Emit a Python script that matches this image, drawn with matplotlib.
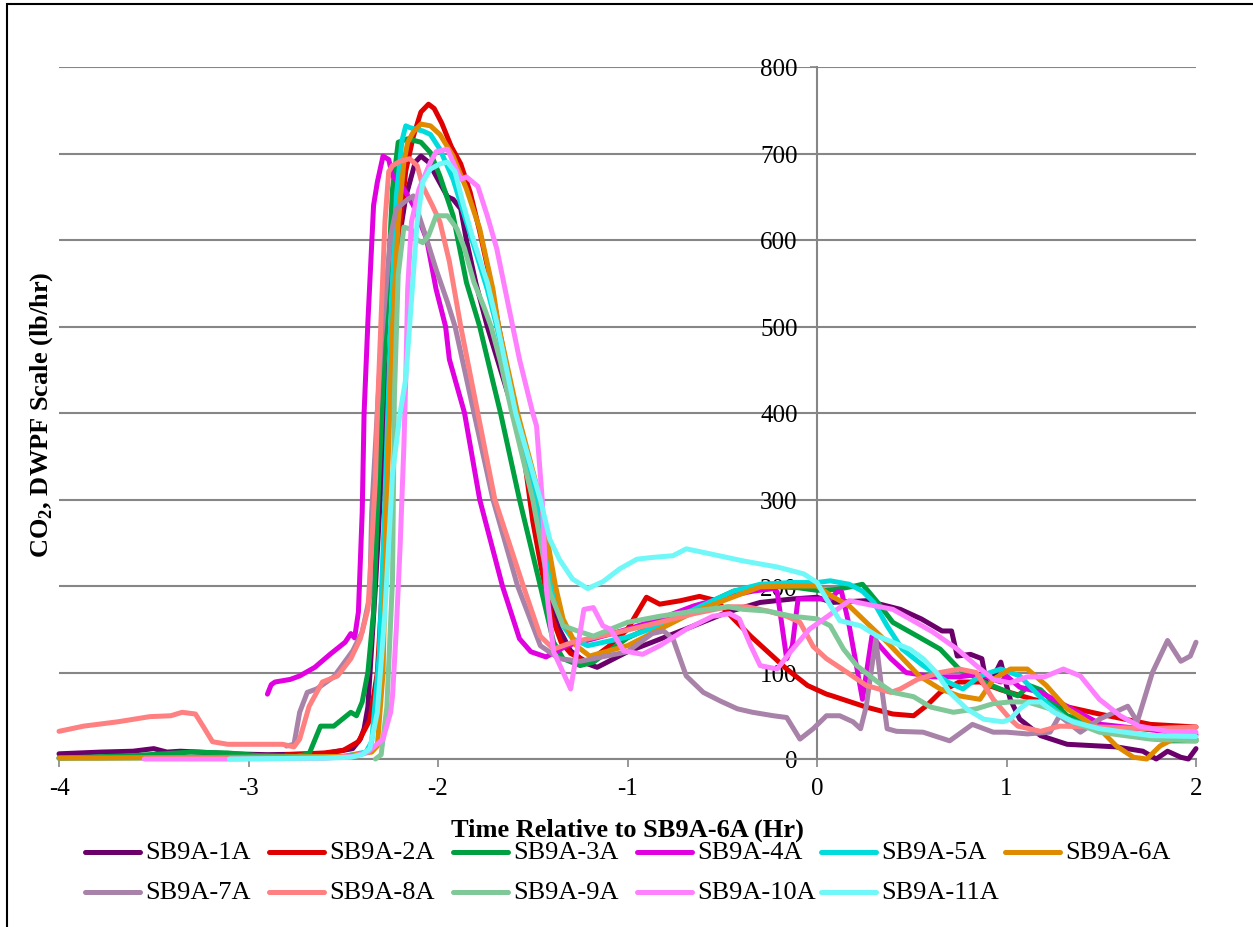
import matplotlib
matplotlib.use('Agg')
import matplotlib.pyplot as plt
from matplotlib.lines import Line2D
from matplotlib.patches import Rectangle

plt.rcParams['font.family'] = ['Liberation Serif', 'DejaVu Serif']
plt.rcParams['mathtext.fontset'] = 'custom'
plt.rcParams['mathtext.rm'] = 'Liberation Serif'
plt.rcParams['mathtext.bf'] = 'Liberation Serif:bold'

# ---------------- data ----------------
names = ['SB9A-1A', 'SB9A-2A', 'SB9A-3A', 'SB9A-4A', 'SB9A-5A', 'SB9A-6A',
         'SB9A-7A', 'SB9A-8A', 'SB9A-9A', 'SB9A-10A', 'SB9A-11A']
colors = ['#6B006B', '#E00000', '#00A040', '#E000E0', '#00DCDC', '#E08A00',
          '#A882A8', '#FF8080', '#80C898', '#FF80FF', '#70F8F8']

t_1A = [-4, -3.78, -3.61, -3.5, -3.43, -3.36, -3.26, -3.1, -2.9, -2.6, -2.45, -2.41, -2.39, -2.37, -2.33,
        -2.28, -2.22, -2.17, -2.12, -2.09, -2.05, -2.0, -1.95, -1.92, -1.88, -1.85, -1.8, -1.74, -1.6,
        -1.5, -1.42, -1.36, -1.3, -1.21, -1.16, -1.0, -0.87, -0.65, -0.47, -0.3, -0.13, 0, 0.08, 0.26,
        0.44, 0.55, 0.66, 0.71, 0.74, 0.81, 0.87, 0.9, 0.97, 1.0, 1.02, 1.07, 1.18, 1.32, 1.58, 1.72,
        1.79, 1.85, 1.92, 1.96, 2.0]
co2_1A = [6, 8, 9, 12, 8, 9, 8, 6, 5, 6, 12, 23, 35, 60, 200, 400, 580, 650, 690, 697, 690, 670, 650,
          647, 636, 600, 550, 500, 400, 300, 200, 150, 125, 110, 106, 124, 135, 154, 170, 181, 185, 187,
          181, 183, 173, 162, 148, 148, 119, 121, 116, 81, 112, 85, 69, 46, 27, 17, 14, 9, 0, 9, 2, 0, 12]

t_2A = [-2.8, -2.6, -2.5, -2.42, -2.36, -2.32, -2.28, -2.26, -2.23, -2.2, -2.17, -2.13, -2.09, -2.05,
        -2.02, -1.98, -1.93, -1.88, -1.83, -1.78, -1.73, -1.68, -1.63, -1.58, -1.54, -1.5, -1.45, -1.4,
        -1.35, -1.3, -1.21, -1.1, -1.0, -0.9, -0.83, -0.72, -0.62, -0.53, -0.44, -0.35, -0.26, -0.16,
        -0.05, 0.05, 0.08, 0.26, 0.4, 0.51, 0.58, 0.65, 0.75, 0.86, 0.97, 1.14, 1.49, 1.76, 2.0]
co2_2A = [5, 7, 10, 20, 45, 100, 250, 390, 530, 620, 680, 720, 748, 757, 752, 735, 708, 688, 655, 610,
          560, 500, 445, 390, 340, 275, 215, 165, 135, 122, 112, 130, 150, 187, 179, 183, 188, 183, 162,
          142, 124, 104, 85, 75, 73, 60, 52, 50, 62, 77, 89, 89, 80, 69, 52, 40, 37]

t_3A = [-4, -3.6, -3.45, -3.3, -3.11, -2.95, -2.75, -2.68, -2.62, -2.55, -2.46, -2.43, -2.4, -2.37,
        -2.34, -2.32, -2.28, -2.24, -2.21, -2.16, -2.09, -2.04, -1.99, -1.92, -1.85, -1.78, -1.71, -1.67,
        -1.57, -1.46, -1.39, -1.34, -1.25, -1.18, -1.0, -0.8, -0.6, -0.44, -0.3, -0.1, 0.0, 0.1, 0.2,
        0.24, 0.32, 0.4, 0.53, 0.65, 0.75, 0.9, 1.0, 1.06, 1.12, 1.18, 1.32, 1.67, 1.85, 2.0]
co2_3A = [1, 4, 6, 8, 7, 4, 3, 6, 38, 38, 54, 50, 66, 100, 170, 285, 480, 659, 713, 717, 713, 701, 674,
          628, 551, 500, 436, 400, 300, 200, 135, 116, 108, 112, 140, 160, 178, 194, 200, 198, 195, 196,
          200, 202, 181, 158, 142, 127, 104, 87, 78, 73, 85, 80, 50, 27, 21, 21]

t_4A = [-2.9, -2.88, -2.86, -2.78, -2.73, -2.65, -2.57, -2.49, -2.46, -2.44, -2.42, -2.40, -2.39, -2.37,
        -2.34, -2.32, -2.29, -2.26, -2.24, -2.18, -2.13, -2.06, -2.01, -1.96, -1.94, -1.86, -1.78, -1.66,
        -1.57, -1.51, -1.43, -1.32, -1.18, -1.0, -0.83, -0.65, -0.47, -0.34, -0.23, -0.21, -0.16, -0.13,
        -0.10, -0.02, 0.07, 0.11, 0.13, 0.17, 0.24, 0.29, 0.33, 0.39, 0.47, 0.61, 0.75, 0.86, 0.97, 1.0,
        1.07, 1.18, 1.5, 2.0]
co2_4A = [75, 86, 89, 92, 96, 106, 121, 135, 145, 140, 170, 285, 400, 505, 640, 667, 697, 693, 674, 659,
          640, 601, 543, 500, 462, 400, 300, 200, 139, 124, 118, 131, 139, 150, 162, 177, 188, 194, 197,
          193, 116, 131, 185, 185, 185, 194, 193, 154, 69, 142, 131, 116, 100, 95, 95, 98, 89, 96, 83, 77,
          40, 28]

t_5A = [-4, -3.8, -3.0, -2.5, -2.38, -2.35, -2.31, -2.28, -2.25, -2.22, -2.19, -2.17, -2.15, -2.08,
        -2.04, -1.99, -1.92, -1.85, -1.74, -1.69, -1.59, -1.48, -1.40, -1.34, -1.29, -1.21, -1.0, -0.83,
        -0.62, -0.44, -0.30, -0.13, 0.0, 0.07, 0.17, 0.24, 0.30, 0.37, 0.45, 0.56, 0.69, 0.77, 0.86,
        0.97, 1.07, 1.19, 1.32, 1.49, 1.76, 2.0]
co2_5A = [1, 1, 2, 3, 8, 20, 120, 300, 500, 650, 715, 732, 730, 726, 722, 705, 670, 621, 543, 500, 400,
          300, 200, 154, 139, 131, 141, 154, 176, 194, 202, 204, 204, 206, 202, 194, 181, 154, 127, 108,
          89, 81, 96, 104, 96, 69, 46, 35, 27, 23]

t_6A = [-4, -3.8, -3.0, -2.5, -2.35, -2.32, -2.29, -2.27, -2.24, -2.21, -2.18, -2.16, -2.13, -2.09,
        -2.04, -1.99, -1.92, -1.85, -1.78, -1.71, -1.68, -1.58, -1.46, -1.38, -1.34, -1.27, -1.2, -1.0,
        -0.83, -0.65, -0.47, -0.3, -0.13, 0.0, 0.08, 0.17, 0.26, 0.37, 0.44, 0.54, 0.65, 0.75, 0.86,
        0.93, 1.02, 1.11, 1.21, 1.32, 1.49, 1.58, 1.67, 1.74, 1.81, 1.88, 2.0]
co2_6A = [1, 1, 2, 3, 8, 15, 100, 300, 500, 620, 690, 713, 725, 734, 732, 722, 697, 659, 613, 543, 500,
          400, 300, 200, 162, 131, 119, 131, 150, 170, 185, 199, 200, 200, 188, 177, 158, 135, 119, 96,
          81, 73, 69, 92, 104, 104, 85, 58, 35, 15, 2, 0, 15, 23, 23]

t_7A = [-2.80, -2.76, -2.73, -2.69, -2.64, -2.55, -2.45, -2.40, -2.36, -2.35, -2.30, -2.25, -2.22,
        -2.16, -2.13, -2.10, -2.06, -2.01, -1.95, -1.91, -1.81, -1.71, -1.58, -1.46, -1.36, -1.25, -1.18,
        -1.0, -0.87, -0.81, -0.76, -0.69, -0.60, -0.51, -0.42, -0.34, -0.23, -0.16, -0.09, -0.02, 0.05,
        0.12, 0.19, 0.23, 0.26, 0.31, 0.34, 0.37, 0.42, 0.56, 0.70, 0.82, 0.93, 1.0, 1.11, 1.23, 1.28,
        1.39, 1.49, 1.64, 1.69, 1.77, 1.85, 1.92, 1.97, 2.0]
co2_7A = [15, 17, 54, 77, 81, 95, 125, 147, 188, 285, 480, 605, 636, 647, 651, 628, 601, 566, 528, 500,
          400, 300, 200, 131, 116, 113, 116, 124, 145, 148, 139, 96, 77, 67, 58, 54, 50, 48, 23, 35, 50,
          50, 43, 35, 61, 139, 84, 35, 32, 31, 21, 40, 31, 31, 29, 31, 50, 31, 46, 61, 43, 100, 137, 113,
          119, 135]

t_8A = [-4.0, -3.87, -3.69, -3.52, -3.41, -3.35, -3.28, -3.24, -3.19, -3.11, -2.99, -2.82, -2.76, -2.73,
        -2.68, -2.61, -2.53, -2.46, -2.41, -2.37, -2.36, -2.33, -2.32, -2.28, -2.26, -2.24, -2.20, -2.15,
        -2.11, -2.08, -2.03, -1.99, -1.94, -1.88, -1.79, -1.70, -1.55, -1.46, -1.39, -1.29, -1.04, -0.83,
        -0.65, -0.47, -0.37, -0.26, -0.16, -0.09, -0.02, 0.05, 0.16, 0.26, 0.39, 0.44, 0.53, 0.65, 0.75,
        0.84, 0.93, 1.02, 1.06, 1.18, 1.28, 1.49, 1.76, 2.0]
co2_8A = [32, 38, 43, 49, 50, 54, 52, 38, 20, 17, 17, 17, 14, 23, 61, 89, 96, 116, 139, 173, 208, 324,
          401, 621, 679, 686, 691, 694, 686, 662, 640, 621, 575, 500, 400, 300, 200, 142, 127, 135, 147,
          158, 168, 176, 176, 171, 165, 158, 130, 116, 100, 85, 77, 81, 92, 100, 104, 100, 69, 46, 38, 32,
          38, 37, 35, 37]

t_9A = [-2.33, -2.30, -2.27, -2.24, -2.23, -2.21, -2.18, -2.14, -2.11, -2.08, -2.05, -2.01, -1.95, -1.90,
        -1.86, -1.81, -1.76, -1.72, -1.67, -1.61, -1.50, -1.41, -1.34, -1.25, -1.18, -1.0, -0.83, -0.65,
        -0.47, -0.39, -0.26, -0.13, 0.0, 0.07, 0.14, 0.21, 0.32, 0.40, 0.51, 0.60, 0.72, 0.84, 0.93,
        1.02, 1.11, 1.23, 1.35, 1.49, 1.76, 2.0]
co2_9A = [0, 5, 60, 208, 420, 560, 615, 612, 600, 597, 605, 628, 628, 613, 590, 551, 524, 500, 459, 400,
          300, 193, 154, 147, 142, 158, 165, 171, 176, 173, 171, 165, 162, 154, 127, 108, 89, 77, 72, 60,
          54, 58, 64, 66, 66, 58, 43, 31, 23, 21]

t_10A = [-3.55, -3.1, -2.6, -2.45, -2.37, -2.29, -2.25, -2.24, -2.22, -2.20, -2.18, -2.17, -2.16, -2.14,
         -2.10, -2.04, -2.01, -1.95, -1.92, -1.88, -1.85, -1.79, -1.74, -1.69, -1.57, -1.50, -1.48, -1.45,
         -1.43, -1.39, -1.30, -1.23, -1.18, -1.13, -1.09, -1.02, -0.92, -0.83, -0.69, -0.55, -0.46, -0.41,
         -0.35, -0.30, -0.21, -0.14, -0.04, 0.05, 0.17, 0.26, 0.40, 0.49, 0.61, 0.74, 0.84, 0.93, 1.02,
         1.11, 1.2, 1.3, 1.39, 1.49, 1.60, 1.70, 1.85, 2.0]
co2_10A = [0, 0, 1, 3, 8, 23, 54, 73, 150, 246, 362, 440, 543, 621, 659, 690, 702, 705, 690, 670, 673,
           662, 628, 590, 462, 400, 385, 300, 200, 124, 81, 173, 175, 154, 150, 125, 121, 131, 150, 165,
           168, 162, 131, 108, 104, 124, 150, 164, 183, 179, 173, 162, 147, 127, 108, 92, 88, 95, 95, 104,
           96, 69, 50, 38, 32, 31]

t_11A = [-3.1, -2.6, -2.46, -2.4, -2.36, -2.32, -2.28, -2.24, -2.2, -2.17, -2.14, -2.11, -2.08, -2.04,
         -1.99, -1.95, -1.91, -1.87, -1.82, -1.74, -1.69, -1.59, -1.46, -1.41, -1.36, -1.29, -1.21, -1.13,
         -1.04, -0.95, -0.87, -0.76, -0.69, -0.56, -0.39, -0.21, -0.07, 0.0, 0.05, 0.12, 0.23, 0.32, 0.40,
         0.49, 0.56, 0.63, 0.70, 0.79, 0.88, 0.98, 1.02, 1.07, 1.12, 1.18, 1.25, 1.35, 1.49, 1.76, 2.0]
co2_11A = [0, 1, 2, 5, 12, 54, 170, 330, 400, 440, 530, 621, 667, 682, 688, 690, 679, 644, 605, 551, 505,
           400, 300, 254, 231, 208, 197, 205, 220, 231, 233, 235, 243, 237, 229, 222, 214, 204, 185, 160,
           154, 142, 135, 127, 116, 100, 77, 58, 46, 43, 46, 58, 66, 66, 54, 43, 35, 27, 26]

x_ticks = [-4, -3, -2, -1, 0, 1, 2]
y_ticks = [0, 100, 200, 300, 400, 500, 600, 700, 800]

series_t = [t_1A, t_2A, t_3A, t_4A, t_5A, t_6A, t_7A, t_8A, t_9A, t_10A, t_11A]
series_v = [co2_1A, co2_2A, co2_3A, co2_4A, co2_5A, co2_6A, co2_7A, co2_8A, co2_9A, co2_10A, co2_11A]

# ---------------- figure ----------------
W, H = 1253, 928
fig = plt.figure(figsize=(W / 100, H / 100), dpi=100)
ax = fig.add_axes([59 / W, 1 - 760 / H, (1196 - 59) / W, (760 - 68) / H])

grid_c = '#868686'
LW = 3.6
for t, v, c in zip(series_t, series_v, colors):
    ax.plot(t, v, color=c, lw=LW, solid_joinstyle='round', solid_capstyle='round', clip_on=False, zorder=3)

ax.set_xlim(-4, 2)
ax.set_ylim(0, 800)
ax.set_xticks(x_ticks)
ax.set_xticklabels([str(x) for x in x_ticks])
ax.set_yticks(y_ticks)
ax.set_yticklabels([str(y) for y in y_ticks])

ax.yaxis.grid(True, color=grid_c, lw=1.5)
ax.set_axisbelow(True)
ax.spines['top'].set_visible(False)
ax.spines['right'].set_visible(False)
ax.spines['left'].set_position(('data', 0))
ax.spines['left'].set_color(grid_c)
ax.spines['left'].set_linewidth(1.5)
ax.spines['bottom'].set_color(grid_c)
ax.spines['bottom'].set_linewidth(1.5)
ax.tick_params(axis='x', direction='out', length=6, width=1.2, color=grid_c, pad=7, labelsize=18)
ax.tick_params(axis='y', direction='out', length=5, width=1.2, color=grid_c, pad=9, labelsize=18)

fig.text(627 / W, 1 - 830 / H, 'Time Relative to SB9A-6A (Hr)', ha='center', va='center',
         fontsize=19, fontweight='bold')
fig.text(42 / W, 1 - 415 / H, r'CO$_\mathbf{2}$, DWPF Scale (lb/hr)', ha='center', va='center',
         rotation=90, fontsize=19, fontweight='bold')

# legend (row-major, 6 per row)
for i, (name, c) in enumerate(zip(names, colors)):
    row, col = divmod(i, 6)
    x0 = 85 + 184 * col
    y = 853 if row == 0 else 893
    fig.add_artist(Line2D([x0 / W, (x0 + 55) / W], [1 - y / H, 1 - y / H], color=c, lw=LW,
                          solid_capstyle='round', transform=fig.transFigure))
    fig.text((x0 + 60) / W, 1 - y / H, name, ha='left', va='center', fontsize=19)

# outer border
fig.add_artist(Rectangle((7 / W, -0.05), 1.2, (1 - 5 / H) + 0.05, fill=False, ec='black', lw=1.5,
                         transform=fig.transFigure, clip_on=False))

fig.savefig('out.png', dpi=100)
